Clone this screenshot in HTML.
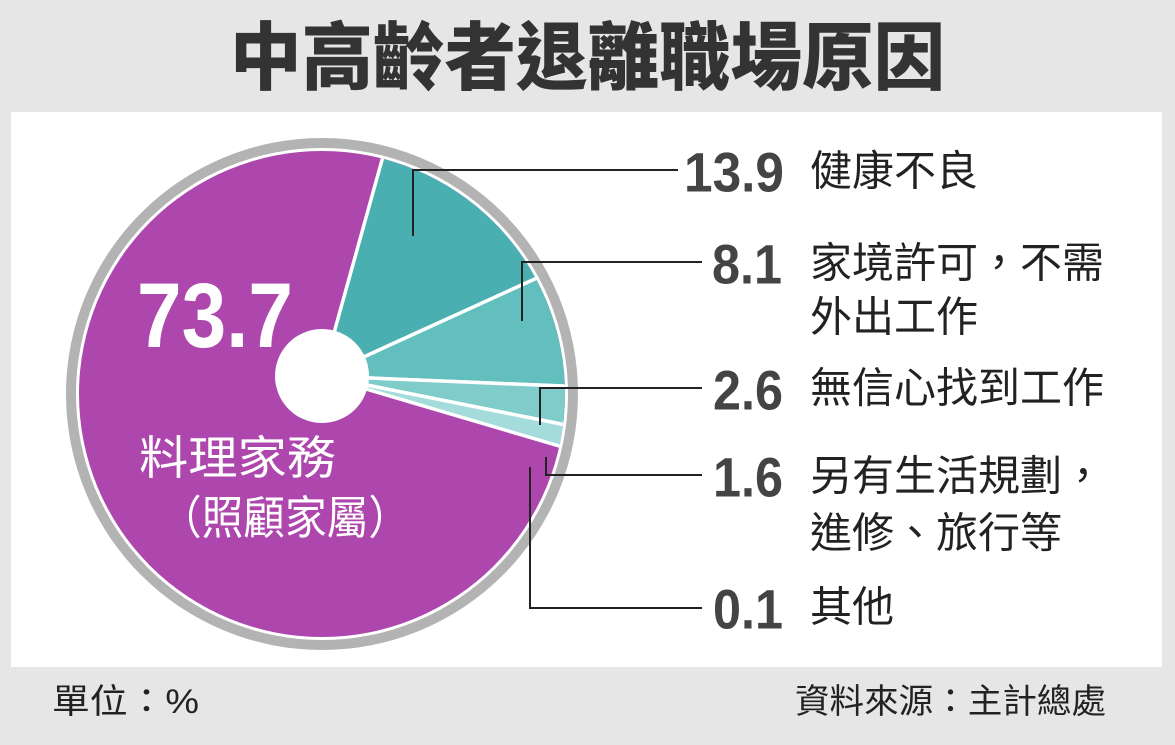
<!DOCTYPE html>
<html><head><meta charset="utf-8"><style>
html,body{margin:0;padding:0;background:#e6e6e6;}
svg{display:block;}
</style></head><body>
<svg width="1175" height="745" viewBox="0 0 1175 745" xmlns="http://www.w3.org/2000/svg">
<rect x="0" y="0" width="1175" height="745" fill="#e6e6e6"/>
<text x="230" y="58" dominant-baseline="central" textLength="715" lengthAdjust="spacingAndGlyphs" font-family="'Liberation Sans','Noto Sans CJK TC',sans-serif" font-weight="900" font-size="74" fill="#333">中高齡者退離職場原因</text>
<rect x="11" y="112" width="1151" height="555" fill="#fff"/>
<defs><clipPath id="pc"><circle cx="322" cy="394" r="243"/></clipPath></defs>
<circle cx="322" cy="394" r="256" fill="#b3b3b3"/>
<circle cx="322" cy="394" r="246" fill="#fff"/>
<circle cx="322" cy="394" r="243" fill="#ae47ad"/>
<g clip-path="url(#pc)" stroke="#fff" stroke-width="3.5" stroke-linejoin="round">
<polygon points="322,376 502,-272 967,82" fill="#4aafb1"/>
<polygon points="322,376 967,82 1039,406" fill="#62bfbe"/>
<polygon points="322,376 1039,406 1024,517" fill="#7fcccb"/>
<polygon points="322,376 1024,517 1003,577" fill="#a3dcdb"/>
</g>
<circle cx="322" cy="376" r="47" fill="#fff"/>
<text x="137" y="316" dominant-baseline="central" textLength="156" lengthAdjust="spacingAndGlyphs" font-family="'Liberation Sans',sans-serif" font-weight="bold" font-size="92" fill="#fff">73.7</text>
<g font-family="'Liberation Sans','Noto Sans CJK TC',sans-serif" fill="#fff" font-size="46">
<text x="139" y="458" dominant-baseline="central" textLength="197" lengthAdjust="spacingAndGlyphs">料理家務</text>
<text x="160" y="518" dominant-baseline="central" textLength="250" lengthAdjust="spacingAndGlyphs">（照顧家屬）</text>
</g>
<g stroke="#222" stroke-width="2" fill="none">
<polyline points="413,236 413,170 678,170"/>
<polyline points="522,321 522,262 702,262"/>
<polyline points="540,425 540,388 702,388"/>
<polyline points="546,457 546,475 702,475"/>
<polyline points="530,467 530,608 702,608"/>
</g>
<g font-family="'Liberation Sans',sans-serif" font-weight="bold" font-size="56" fill="#444">
<text x="684" y="172" dominant-baseline="central" textLength="100" lengthAdjust="spacingAndGlyphs">13.9</text>
<text x="712" y="264" dominant-baseline="central" textLength="70" lengthAdjust="spacingAndGlyphs">8.1</text>
<text x="713" y="390" dominant-baseline="central" textLength="70" lengthAdjust="spacingAndGlyphs">2.6</text>
<text x="713" y="477" dominant-baseline="central" textLength="70" lengthAdjust="spacingAndGlyphs">1.6</text>
<text x="713" y="609" dominant-baseline="central" textLength="70" lengthAdjust="spacingAndGlyphs">0.1</text>
</g>
<g font-family="'Liberation Sans','Noto Sans CJK TC',sans-serif" font-size="42" fill="#222">
<text x="810" y="171" dominant-baseline="central">健康不良</text>
<text x="810" y="263" dominant-baseline="central">家境許可，不需</text>
<text x="810" y="317" dominant-baseline="central">外出工作</text>
<text x="810" y="388" dominant-baseline="central">無信心找到工作</text>
<text x="810" y="476" dominant-baseline="central">另有生活規劃，</text>
<text x="810" y="533" dominant-baseline="central">進修、旅行等</text>
<text x="810" y="607" dominant-baseline="central">其他</text>
</g>
<g font-family="'Liberation Sans','Noto Sans CJK TC',sans-serif" font-size="34" fill="#222">
<text x="52" y="702" dominant-baseline="central" textLength="147" lengthAdjust="spacingAndGlyphs">單位：%</text>
<text x="795" y="702" dominant-baseline="central" textLength="311" lengthAdjust="spacingAndGlyphs">資料來源：主計總處</text>
</g>
</svg>
</body></html>
